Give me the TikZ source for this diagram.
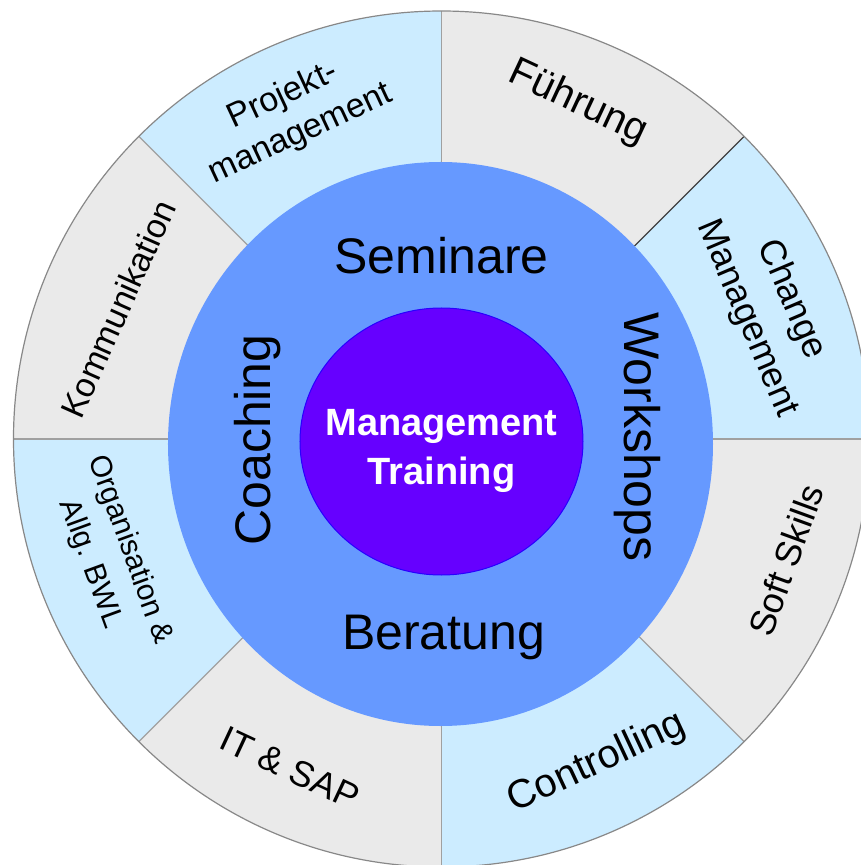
\documentclass[tikz,border=0pt]{standalone}
\usepackage{fontspec}
\setmainfont{Liberation Sans}
\usepackage{tikz}
\usetikzlibrary{shapes.geometric}

\definecolor{segblue}{RGB}{204,236,255}
\definecolor{seggray}{RGB}{234,234,234}
\definecolor{ringblue}{RGB}{102,153,255}
\definecolor{corepurple}{RGB}{102,0,255}
\definecolor{coreline}{RGB}{40,0,255}
\definecolor{segline}{RGB}{160,160,160}

\begin{document}
\begin{tikzpicture}[x=1pt, y=1pt,
                    outer label/.style={align=center, inner sep=0pt},
                    ring label/.style={font=\fontsize{50}{56}\selectfont, inner sep=0pt},
                    core label/.style={font=\fontsize{38}{49}\selectfont\bfseries,
                                       text=white, align=center, inner sep=0pt}]

  \useasboundingbox (-441.5,-426) rectangle (419.5,439);

  % outer segments
  \foreach \a in {0,90,180,270} {
    \fill[segblue] (0,0) -- (\a:428) arc[start angle=\a, end angle=\a+45, radius=428] -- cycle;
    \fill[seggray] (0,0) -- (\a+45:428) arc[start angle=\a+45, end angle=\a+90, radius=428] -- cycle;
  }
  \foreach \a in {0,90,...,270}
    \draw[segline, line width=1.2pt] (0,0) -- (\a:428);
  \foreach \a in {135,225,315}
    \draw[segline, line width=1.2pt] (0,0) -- (\a:428);
  \draw[black!75, line width=1.2pt] (0,0) -- (45:428);
  \draw[segline!85!black, line width=1.2pt] (0,0) circle (428);

  % rings
  \fill[ringblue] (-1,-5) ellipse [x radius=272.5, y radius=282];
  \filldraw[fill=corepurple, draw=coreline, line width=1pt] (0,-2.5) ellipse [x radius=141.5, y radius=133.5];

  \node[core label] (core) at (0,-12) {Management\\Training};

  \node[ring label] (sem) at (0,183) {Seminare};
  \node[ring label, rotate=-90] (work) at (196,2) {Workshops};
  \node[ring label] (ber) at (2,-198) {Beratung};
  \node[ring label, rotate=90] (coach) at (-184,-1) {Coaching};

  \node[outer label, rotate=-25, font=\fontsize{40}{46}\selectfont] (fuehr) at (136.5,336) {Führung};
  \node[outer label, rotate=25, font=\fontsize{34}{42}\selectfont] (proj) at (-149.5,324) {Projekt-\\management};
  \node[outer label, rotate=-67, font=\fontsize{36}{48}\selectfont] (change) at (327.5,130) {Change\\Management};
  \node[outer label, rotate=70, font=\fontsize{36}{44}\selectfont] (soft) at (344.5,-121) {Soft Skills};
  \node[outer label, rotate=25, font=\fontsize{40}{46}\selectfont] (contr) at (155.5,-324) {Controlling};
  \node[outer label, rotate=-25, font=\fontsize{36}{44}\selectfont] (itsap) at (-151.5,-329) {IT \& SAP};
  \node[outer label, rotate=-70, font=\fontsize{30}{42}\selectfont] (orga) at (-331.5,-118) {Organisation \&\\Allg. BWL};
  \node[outer label, rotate=66, font=\fontsize{34}{42}\selectfont] (komm) at (-323.5,130) {Kommunikation};
\end{tikzpicture}
\end{document}
